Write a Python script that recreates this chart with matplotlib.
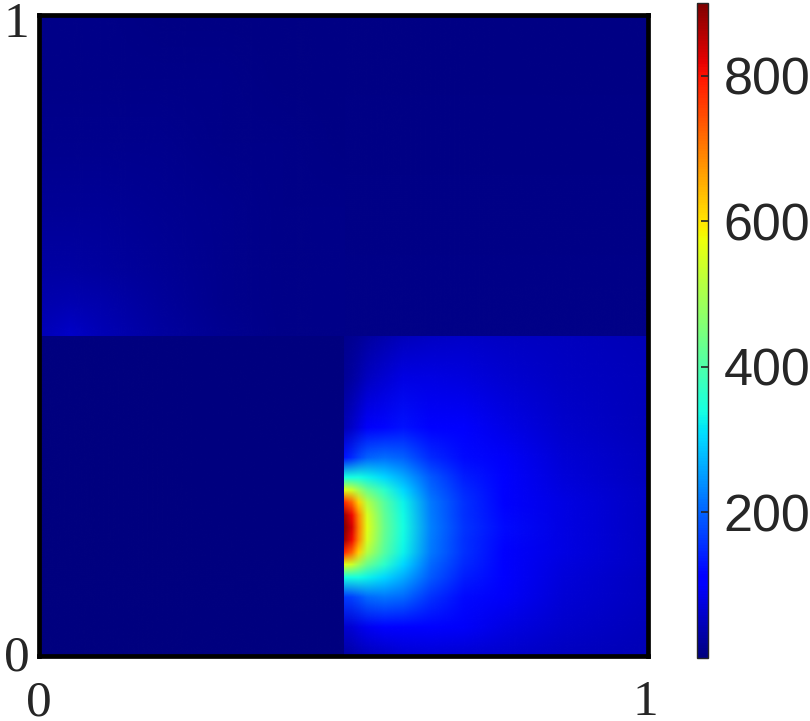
import numpy as np
from matplotlib import pyplot as plt
from matplotlib.colors import Normalize
from matplotlib.image import NonUniformImage
from matplotlib.patches import Rectangle
from matplotlib.transforms import ScaledTranslation

W, H = 810, 721

# bottom right block, the hot spot sits on its left edge
br_x = [0.5, 0.513, 0.524, 0.538, 0.566, 0.597, 0.643, 0.697, 0.763, 0.861, 1.0]
br_y = [0.0, 0.044, 0.091, 0.122, 0.142, 0.161, 0.181, 0.2, 0.219, 0.239,
        0.258, 0.278, 0.309, 0.356, 0.434, 0.5]
br_values = [
    [30, 34, 40, 46, 55, 65, 68, 66, 60, 52, 43],
    [65, 70, 78, 90, 106, 115, 108, 95, 80, 62, 47],
    [165, 170, 185, 205, 215, 205, 155, 122, 97, 68, 50],
    [340, 340, 340, 330, 305, 265, 190, 140, 107, 73, 52],
    [560, 540, 490, 430, 365, 305, 205, 150, 113, 76, 53],
    [780, 720, 620, 510, 410, 330, 218, 156, 116, 78, 54],
    [880, 810, 690, 550, 425, 335, 222, 158, 118, 80, 55],
    [900, 830, 700, 560, 430, 340, 225, 160, 120, 80, 55],
    [880, 810, 690, 550, 425, 335, 222, 158, 118, 80, 55],
    [780, 720, 620, 510, 410, 330, 218, 156, 116, 78, 54],
    [560, 540, 490, 430, 365, 305, 205, 150, 113, 76, 53],
    [340, 340, 340, 330, 305, 265, 190, 140, 107, 73, 52],
    [130, 150, 175, 200, 210, 200, 150, 120, 96, 68, 50],
    [45, 58, 75, 95, 118, 128, 115, 100, 82, 62, 47],
    [20, 27, 38, 50, 65, 78, 80, 75, 66, 55, 46],
    [12, 15, 20, 28, 38, 48, 55, 58, 55, 50, 45],
]

# top left block, faint glow in its lower left corner
tl_x = [0.0, 0.05, 0.1, 0.2, 0.3, 0.4, 0.5]
tl_y = [0.5, 0.55, 0.6, 0.7, 0.8, 0.9, 1.0]
tl_values = [
    [45, 58, 45, 26, 15, 10, 8],
    [38, 42, 36, 23, 14, 10, 8],
    [30, 31, 28, 20, 13, 10, 8],
    [20, 20, 18, 15, 12, 9, 8],
    [14, 14, 13, 12, 10, 8, 7],
    [10, 10, 10, 9, 8, 7, 6],
    [8, 8, 8, 7, 7, 6, 5],
]

# the other two blocks are almost flat
tr_x = [0.5, 1.0]
tr_y = [0.5, 1.0]
tr_values = [[8, 8], [6, 6]]
bl_x = [0.0, 0.5]
bl_y = [0.0, 0.5]
bl_values = [[3, 3], [3, 3]]

cbar_ticks = [200, 400, 600, 800]

plt.rcParams['font.family'] = ['Liberation Serif', 'DejaVu Serif']

fig = plt.figure(figsize=(W / 100, H / 100), dpi=100)
ax = fig.add_axes([39 / W, 1 - 656 / H, 609 / W, 641 / H])
norm = Normalize(0, 900)

# top blocks first, the bottom ones over them so the seam stays straight
blocks = [(tr_x, tr_y, tr_values), (tl_x, tl_y, tl_values),
          (bl_x, bl_y, bl_values), (br_x, br_y, br_values)]
for bx, by, bv in blocks:
    # NonUniformImage fills the whole axes, so clip it to its own block
    im = NonUniformImage(ax, interpolation='bilinear', cmap='jet', norm=norm)
    im.set_data(bx, by, np.array(bv, dtype=float))
    ax.add_image(im)
    im.set_clip_path(Rectangle((bx[0], by[0]), bx[-1] - bx[0], by[-1] - by[0],
                               transform=ax.transData))

ax.set_xlim(0, 1)
ax.set_ylim(0, 1)
ax.set_xticks([0, 1], ['0', '1'])
ax.set_yticks([0, 1], ['0', '1'])
ax.tick_params(length=0, labelsize=37, labelcolor='#262626')
ax.tick_params(axis='x', pad=17)
ax.tick_params(axis='y', pad=7)
for s in ax.spines.values():
    s.set_linewidth(3.4)
    s.set_color('black')

# nudge the labels of the far ends inward, in points
xlabs = ax.get_xticklabels()
ylabs = ax.get_yticklabels()
xlabs[1].set_transform(xlabs[1].get_transform() + ScaledTranslation(-2 / 72, 0, fig.dpi_scale_trans))
ylabs[1].set_transform(ylabs[1].get_transform() + ScaledTranslation(0, -3 / 72, fig.dpi_scale_trans))
ylabs[0].set_transform(ylabs[0].get_transform() + ScaledTranslation(0, 2 / 72, fig.dpi_scale_trans))

cax = fig.add_axes([697 / W, 1 - 658 / H, 11 / W, 655 / H])
cb = fig.colorbar(im, cax=cax)
cb.set_ticks(cbar_ticks)
cax.tick_params(direction='in', length=5, width=1.2, color='#262626', labelsize=37.5,
                labelcolor='#262626', pad=11)
for lab in cax.get_yticklabels():
    lab.set_family('Liberation Sans')
cb.outline.set_linewidth(1.0)
cb.outline.set_edgecolor('#262626')

fig.savefig('out.png', dpi=100)
